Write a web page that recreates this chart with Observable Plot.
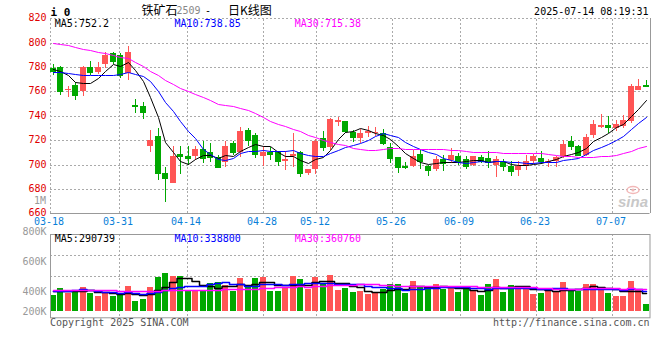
<!DOCTYPE html>
<html><head><meta charset="utf-8">
<script src="https://cdn.jsdelivr.net/npm/d3@7"></script>
<script src="https://cdn.jsdelivr.net/npm/@observablehq/plot@0.6"></script>
<style>
html,body{margin:0;padding:0;background:#fff;}
#chart{position:relative;width:660px;height:360px;overflow:hidden;background:#fff;}
#chart svg{position:absolute;left:0;top:0;}
</style></head><body><div id="chart"></div>
<script>
// ---------- data ----------
const dates = [
"03-18","03-19","03-20","03-21","03-24","03-25","03-26","03-27","03-28","03-31",
"04-01","04-02","04-03","04-07","04-08","04-09","04-10","04-11","04-14",
"04-15","04-16","04-17","04-18","04-21","04-22","04-23","04-24","04-25","04-28",
"04-29","04-30","05-06","05-07","05-08","05-09","05-12",
"05-13","05-14","05-15","05-16","05-19","05-20","05-21","05-22","05-23","05-26",
"05-27","05-28","05-29","05-30","06-03","06-04","06-05","06-06","06-09",
"06-10","06-11","06-12","06-13","06-16","06-17","06-18","06-19","06-20","06-23",
"06-24","06-25","06-26","06-27","06-30","07-01","07-02","07-03","07-04","07-07",
"07-08","07-09","07-10","07-11","07-14"];
const open = [
779,780,761,765,760,780,776,782,791,790,
775,749,748,715,723,693,685,709,707,707,
713,710,706,702,718,710.5,728,724,707,710.5,
710,703,707,710,693,696,721.5,714,735,735.7,
726.3,722,725.6,725.6,725.6,714,706.4,698.8,698.8,708.9,
698.5,696.6,704.8,704,706.7,704.8,700,706.2,705.4,699.3,
702,698.5,695.8,698.5,702.6,705.4,701.3,702.6,706.7,719,
715.5,707.5,724.5,730.5,732.7,730,731.3,736,761.4,765.5];
const high = [
782,780.5,764,768,781,785,784,792,792,791,
797,754,751,728,730,698,715,715,715,715,
719,718,708,719,719,731,730,726,715,714.6,
711,711,726,711,696.5,721,727.5,738.4,739,736,
728.3,729,731.6,731,729,718,706.4,702,712,711.6,
700,706.7,708,713.6,709.5,706.7,707.3,708,710.8,706.7,
704.5,702.6,702.6,708,709,710.8,704.5,706.7,719.8,723.7,
716.3,725.3,736.8,741.7,739.5,736.8,740.9,766.3,770.4,769.6];
const low = [
773,757,755,753,756,773,774,779,782,771,
769,742.5,737,710,687,669.5,684.6,692,700,704,
701,702,697,698,708,706.4,715,705,699,703.7,
699,695.5,698,689.5,691.8,692,711,712,731.6,725.8,
718.7,718,722.8,723,716,701,693.3,696,698,696.6,
690.3,694.4,694.4,701.3,700,696.3,698.5,701,697.2,689.5,
695,690.3,690.9,695.8,700.7,700.7,698,698,705.4,712.2,
707.3,706.7,721.7,730,725.8,727.2,730,734,761.4,763.6];
const close = [
777,760,762,757,780,776,780,790,785,773,
792,748,743,720,693,689,707,707,705.5,713,
705.5,706,698,715,710.5,727.7,720,709,710.5,708.6,
703,704.5,708.4,693,696.3,719,714,737,736.5,727.7,
722.3,725.6,727.7,726.4,718,705,698.2,697.7,707,702.6,
695.2,704.8,701.3,708,702.6,698.5,706.7,702.6,701.8,704.5,
698.5,695,698.5,703.2,706.7,702.6,703.2,706,717.1,714.9,
708.1,722.6,733.5,732.7,730.5,733.5,736.8,764.1,764.6,764.1];
// volume, thousands of lots
const volume = [
264,381,297,324,398,297,247,314,247,264,
415,163,197,398,566,638,588,583,331,331,
331,465,482,432,331,543,391,549,566,331,
331,381,583,533,365,566,449,600,348,381,
314,331,281,297,365,449,449,297,499,415,
365,449,365,381,314,365,348,264,449,533,
314,432,381,415,281,297,324,314,482,331,
331,449,449,391,297,247,247,499,358,113];
// moving-average values before the windows fill
const ma5Head  = [778,777,773,768];
const ma10Head = [776,775.5,775,774,773,773,773,773,773.5];
const ma30Head = [800,799,798,796.5,795,794,792.5,791,790,788.5,787,784,781,777,773,769.5,766,763,760.5,758,755,752.5,750,749,748,746.5,744.5,742,739];
const vma5Head  = [330,330,328,330];
const vma10Head = [325,325,330,355,360,345,330,320,310];
const vma30Head = [340,340,340,340,340,340,340,340,340,332,332,332,332,332,332,345,345,345,345,345,345,345,345,362,362,365,368,372,378];
// axes
const priceTicks = [660,680,700,720,740,760,780,800,820];
const xTickDates = ["03-18","03-31","04-14","04-28","05-12","05-26","06-09","06-23","07-07"];
const volTickLabels = ["200K","400K","600K","800K"];
const volTickValues = [-8, 323, 827, 1347];
const volGrid = [588, 936];
const priceLegend = ["MA5:752.2","MA10:738.85","MA30:715.38"];
const volLegend = ["MA5:290739","MA10:338800","MA30:360760"];

// ---------- drawing ----------
const mono = "DejaVu Sans Mono, monospace";
const RED = "#ff5555", GREEN = "#00a800";
const MA_COLORS = ["#000000","#0000ff","#ff00ff"];
const legendDx = [4.3, 124, 244.3];
const GRID = {stroke:"#aaa", strokeDasharray:"2,2", strokeWidth:1};

const candles = dates.map((d,i)=>({i, o:open[i], h:high[i], l:low[i], c:close[i], v:volume[i],
  col: close[i] >= open[i] ? RED : GREEN}));
function ma(values, k, head){
  return values.map((_,i)=>({i, v: i < k-1 ? head[i] : d3.mean(values.slice(i-k+1, i+1))}));
}
const pMA = [ma(close,5,ma5Head), ma(close,10,ma10Head), ma(close,30,ma30Head)];
const vMA = [ma(volume,5,vma5Head), ma(volume,10,vma10Head), ma(volume,30,vma30Head)];
const grid = xTickDates.map(d=>({label:d, g: dates.indexOf(d)*1.012 - 0.32}));

const xDomain = [-0.36, 79.51];
const common = {width:660, height:360, marginLeft:50, marginRight:10.5,
  color:{type:"identity"},
  style:{background:"none", overflow:"visible", fontFamily:mono, fontSize:"10px"}};

const price = Plot.plot({
  ...common,
  marginTop:18.1, marginBottom:146.7,
  x:{domain:xDomain, axis:null, round:true},
  y:{domain:[660,820], axis:null, round:true},
  marks:[
    Plot.ruleY(priceTicks.filter(t=>t>660), GRID),
    Plot.ruleX(grid, {x:"g", y1:660, y2:820, ...GRID}),
    Plot.ruleY([660], {stroke:"#999"}),
    Plot.ruleX([xDomain[1]], {y1:660, y2:820, stroke:"#999"}),
    Plot.ruleX(candles, {x:"i", y1:"l", y2:"h", stroke:"col"}),
    Plot.rect(candles, {x1:d=>d.i-0.4, x2:d=>d.i+0.4, y1:"o", y2:"c", fill:"col"}),
    Plot.ruleY(candles, {y:"c", x1:d=>d.i-0.4, x2:d=>d.i+0.4, stroke:"col"}),
    ...pMA.map((s,k)=>Plot.line(s, {x:"i", y:"v", stroke:MA_COLORS[k], strokeWidth:1})),
    Plot.text(priceTicks, {x:xDomain[0], y:d=>d, text:d=>String(d), textAnchor:"end", dx:-4, dy:-1,
      fill:"#e00000", fontSize:10, fontFamily:mono}),
    Plot.text(grid, {x:"g", y:660, text:"label", lineAnchor:"top", dy:4.6, dx:-1.5,
      fill:"#0a7fd8", fontSize:10, fontFamily:mono}),
    ...priceLegend.map((t,k)=>Plot.text([t], {frameAnchor:"top-left", text:d=>d, dx:legendDx[k], dy:1.5,
      fill:MA_COLORS[k], fontSize:10, fontFamily:mono}))
  ]
});

const vol = Plot.plot({
  ...common,
  marginTop:234, marginBottom:42.7,
  x:{domain:xDomain, axis:null, round:true},
  y:{domain:[-110.9,1288.6], axis:null, round:true},
  marks:[
    Plot.ruleY(volGrid, GRID),
    Plot.ruleX(grid, {x:"g", ...GRID}),
    Plot.rect(candles, {x1:d=>d.i-0.4, x2:d=>d.i+0.4, y1:0, y2:"v", fill:"col"}),
    ...vMA.map((s,k)=>Plot.line(s, {x:"i", y:"v", stroke:MA_COLORS[k], strokeWidth:1.5, curve:"step"})),
    Plot.frame({stroke:"#999"}),
    Plot.text(volTickValues, {x:xDomain[0], y:d=>d, text:(d,i)=>volTickLabels[i], textAnchor:"end", dx:-4,
      fill:"#999", fontSize:10, fontFamily:mono}),
    ...volLegend.map((t,k)=>Plot.text([t], {frameAnchor:"top-left", text:d=>d, dx:legendDx[k], dy:0.6,
      fill:MA_COLORS[k], fontSize:10, fontFamily:mono}))
  ]
});

const root = document.getElementById("chart");
root.appendChild(price);
root.appendChild(vol);

// header, footer and watermark texts
const ov = d3.create("svg").attr("width",660).attr("height",360).attr("viewBox","0 0 660 360");
const cjk = "Noto Sans CJK SC, sans-serif";
function t(x,y,s,opt={}){
  ov.append("text").attr("x",x).attr("y",y).text(s)
    .attr("font-family",opt.ff||mono).attr("font-size",opt.fs||10)
    .attr("font-weight",opt.fw||"normal").attr("fill",opt.fill||"#000")
    .attr("text-anchor",opt.anchor||"start").attr("font-style",opt.fst||"normal");
}
t(50.5,15.7,"i 0",{fw:"bold",fs:11});
t(141.5,14.5,"铁矿石",{ff:cjk,fs:12});
t(176.5,13.5,"2509",{fill:"#888"});
t(205,13.5,"-",{});
t(228,14.5,"日K线图",{ff:cjk,fs:12});
t(648.5,15,"2025-07-14 08:19:31",{anchor:"end"});
t(46,204,"1M",{anchor:"end",fill:"#999"});
t(50,326,"Copyright 2025 SINA.COM",{fill:"#555"});
t(649.5,325.5,"http://finance.sina.com.cn",{anchor:"end",fill:"#555"});
// sina watermark
ov.append("ellipse").attr("cx",633).attr("cy",190).attr("rx",6).attr("ry",3.5)
  .attr("fill","none").attr("stroke","#f2b8b8").attr("stroke-width",1.5);
ov.append("circle").attr("cx",633).attr("cy",190).attr("r",1.6).attr("fill","#f2b8b8");
t(618,207,"sina",{ff:"Liberation Sans, sans-serif",fs:15,fw:"bold",fst:"italic",fill:"#c8c8c8"});
root.appendChild(ov.node());
</script>
</body></html>
